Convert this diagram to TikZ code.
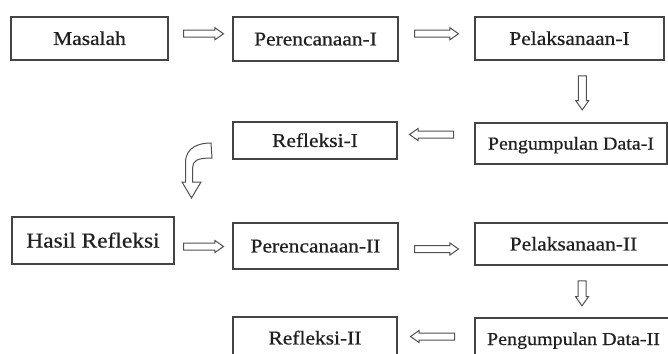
\documentclass[tikz,border=0pt]{standalone}
\usepackage{fontspec}
\setmainfont[FakeStretch=1.1, FakeBold=0.6]{Liberation Serif}
\usetikzlibrary{shapes.arrows,calc}
\definecolor{boxgray}{HTML}{444444}
\definecolor{txtgray}{HTML}{202020}
\definecolor{arrgray}{HTML}{505050}
\begin{document}
\begin{tikzpicture}[x=1pt,y=-1pt,
  box/.style={draw=boxgray, line width=1.3pt, inner sep=0pt, text=txtgray,
    font=\fontsize{19.5}{22}\selectfont, text height=12.9pt, text depth=0pt},
  smallbox/.style={box, font=\fontsize{18.2}{20}\selectfont, text height=12pt},
  bigbox/.style={box, font=\fontsize{21.3}{24}\selectfont, text height=14.1pt},
  blockarrow/.style={single arrow, draw=arrgray, line width=1pt, inner xsep=0pt,
    inner ysep=3pt, minimum width=11pt, single arrow head extend=2.5pt,
    single arrow tip angle=70},
  rarrow/.style={blockarrow, shape border rotate=0},
  larrow/.style={blockarrow, shape border rotate=180},
  darrow/.style={blockarrow, shape border rotate=270, inner sep=3.5pt, minimum width=12pt}
]
\useasboundingbox (0,0) rectangle (668,353);
\clip (0,0) rectangle (668,353);

% boxes
\node[box, minimum width=157pt, minimum height=43pt] (masalah) at (89.5,38.5) {Masalah};
\node[box, minimum width=165pt, minimum height=44pt] (per1) at (315.5,39) {Perencanaan-I};
\node[box, minimum width=189pt, minimum height=43pt] (pel1) at (569.5,38.5) {Pelaksanaan-I};
\node[smallbox, minimum width=192pt, minimum height=41pt] (peng1) at (571,143.5) {Pengumpulan Data-I};
\node[box, minimum width=164pt, minimum height=37pt] (refl1) at (315,140.5) {Refleksi-I};
\node[bigbox, minimum width=162pt, minimum height=47pt] (hasil) at (93,240.5) {Hasil Refleksi};
\node[box, minimum width=165pt, minimum height=46pt] (per2) at (315.5,246) {Perencanaan-II};
\node[box, minimum width=197pt, minimum height=42pt] (pel2) at (573.5,244) {Pelaksanaan-II};
\node[smallbox, minimum width=197pt, minimum height=42pt] (peng2) at (573.5,339) {Pengumpulan Data-II};
\node[box, minimum width=164pt, minimum height=42pt] (refl2) at (315,338) {Refleksi-II};

% block arrows
\node[rarrow, minimum height=40pt] (a1) at ($(masalah.east)!0.5!(per1.west)+(0.5,-5)$) {};
\node[rarrow, minimum height=44pt] (a2) at ($(per1.east)!0.5!(pel1.west)+(-2.5,-5)$) {};
\node[darrow, minimum height=34pt] (a3) at ($(pel1.south)!0.5!(peng1.north)+(12,-1.5)$) {};
\node[larrow, minimum height=44pt] (a4) at ($(refl1.east)!0.5!(peng1.west)+(-2,-7.5)$) {};
\node[rarrow, minimum height=40pt] (a6) at ($(hasil.east)!0.5!(per2.west)+(-2.5,3.25)$) {};
\node[rarrow, minimum height=44pt] (a7) at ($(per2.east)!0.5!(pel2.west)+(-2.5,4)$) {};
\node[darrow, minimum height=25pt] (a8) at ($(pel2.south)!0.5!(peng2.north)+(8.5,-1)$) {};
\node[larrow, minimum height=44pt] (a9) at ($(refl2.east)!0.5!(peng2.west)+(-1,-2)$) {};

% curved block arrow from Refleksi-I down to Hasil Refleksi
\draw[draw=arrgray, line width=1pt, line join=miter]
  (211,143) .. controls (199,143) and (186,147) .. (185.5,162)
  -- (185.5,182) -- (182,182) -- (191.5,198) -- (201,182) -- (192.5,182)
  -- (192.5,168) .. controls (193,161) and (196,158) .. (212,158) -- cycle;
\end{tikzpicture}
\end{document}
